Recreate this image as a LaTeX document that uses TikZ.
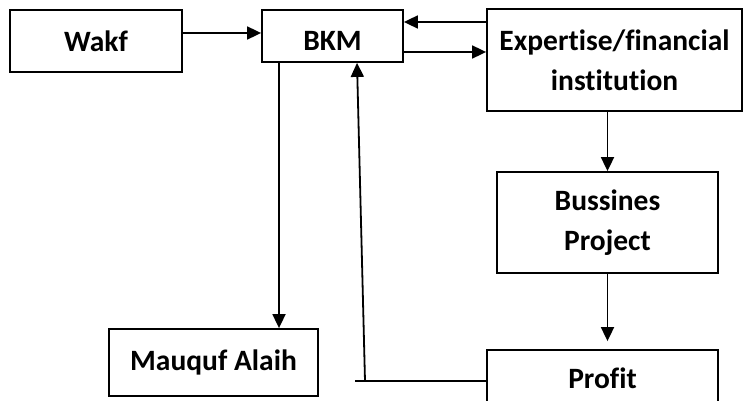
\documentclass[tikz,border=0pt]{standalone}
\usepackage{fontspec}
\setmainfont{Carlito}[Ligatures=NoCommon]
\usetikzlibrary{arrows.meta}
\tikzset {
  boxtext/.style = {font=\fontsize{29.5}{40}\selectfont\bfseries},
  box/.style = {draw, line width=1.8pt, rectangle, align=center, inner sep=0pt, boxtext},
  line/.style = {-{Triangle[length=14pt, width=13pt]}, line width=1.8pt, color=black},
  plain/.style = {line width=1.8pt, color=black}
}

\begin{document}
\begin{tikzpicture}[x=1pt, y=-1pt]

    \clip (0,0) rectangle (747,401);

    \node[box, minimum width=172pt, minimum height=62pt] (wakf) at (96,41) {Wakf};
    \node[box, minimum width=141pt, minimum height=52pt, label={[boxtext, yshift=-5pt]center:BKM}] (bkm) at (332.5,36) {};
    \node[box, minimum width=255pt, minimum height=102pt] (exp) at (614.5,60) {Expertise/financial\\institution};
    \node[box, minimum width=221pt, minimum height=101pt] (bus) at (607.5,222.5) {Bussines\\Project};
    \node[box, minimum width=231pt, minimum height=56pt] (prof) at (602.5,378) {Profit};
    \node[box, minimum width=209pt, minimum height=67pt] (mq) at (213.5,362.5) {Mauquf Alaih};

    \coordinate (back) at (355,381);
    \coordinate (up) at (365,381);

    \draw[line] (wakf.east |- 0,33) -- (bkm.west |- 0,33);
    \draw[line] (exp.west |- 0,22) -- (bkm.east |- 0,22);
    \draw[line] (bkm.east |- 0,52) -- (exp.west |- 0,52);
    \draw[line] (bus.north |- exp.south) -- (bus.north);
    \draw[line, shorten >=8pt] (bus.south) -- (bus.south |- prof.north);
    \draw[line] (bkm.south -| 279,0) -- (mq.north -| 279,0);

    % profit goes back to BKM
    \draw[plain] (prof.west |- back) -- (back);
    \draw[line] (up) -- (bkm.south -| 357,0);

\end{tikzpicture}
\end{document}
